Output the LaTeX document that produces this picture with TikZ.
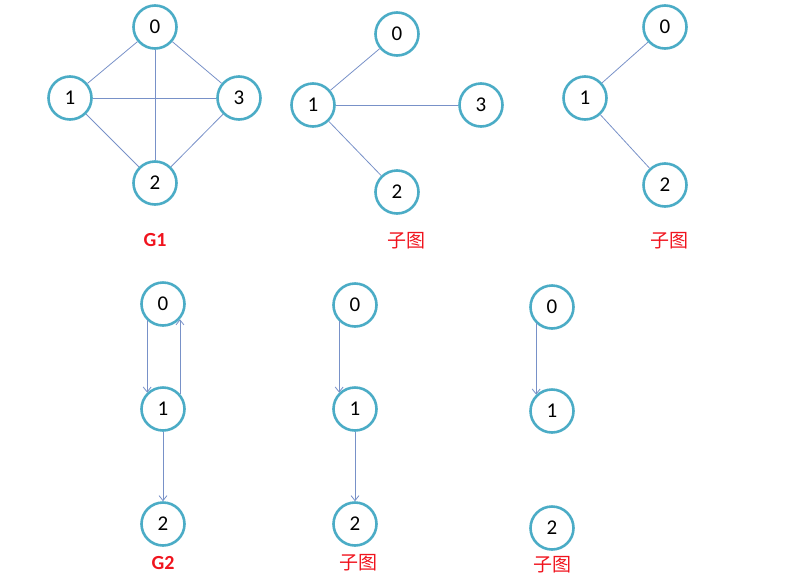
\documentclass[tikz,border=0pt]{standalone}
\usepackage{fontspec}
\setmainfont{Carlito}
\newfontfamily\cjk{Noto Sans CJK SC}
\usetikzlibrary{arrows.meta}
\definecolor{ringblue}{RGB}{75,172,198}
\definecolor{edgeblue}{RGB}{120,145,200}
\definecolor{labelred}{RGB}{240,20,30}

\begin{document}
\begin{tikzpicture}[x=1pt,y=-1pt,
    vert/.style={circle,draw=ringblue,line width=2.6pt,fill=white,
      minimum size=43pt,inner sep=0pt,font=\fontsize{21}{21}\selectfont},
    edge/.style={edgeblue,line width=0.8pt},
    arc/.style={edge,-{Straight Barb[length=5pt,width=8pt]}},
    title/.style={text=labelred,font=\fontsize{20}{20}\selectfont\bfseries},
    subtitle/.style={text=labelred,font=\fontsize{19}{19}\selectfont\cjk}]
  \useasboundingbox (0,0) rectangle (795,587);

  % G1
  \node[vert] (a0) at (155,27) {0};
  \node[vert] (a1) at (70,98) {1};
  \node[vert] (a3) at (239,98) {3};
  \node[vert] (a2) at (155,183) {2};
  \foreach \u/\v in {0/1,0/3,0/2,1/3,1/2,3/2} {
    \draw[edge] (a\u) -- (a\v);
  }
  \node[title] (ta) at (155,240) {G1};

  % first subgraph of G1
  \node[vert] (b0) at (397,34) {0};
  \node[vert] (b1) at (313,105) {1};
  \node[vert] (b3) at (481,105) {3};
  \node[vert] (b2) at (397,192) {2};
  \foreach \v in {0,3,2} {
    \draw[edge] (b1) -- (b\v);
  }
  \node[subtitle] (tb) at (406,241) {子图};

  % second subgraph of G1
  \node[vert] (c0) at (665,27) {0};
  \node[vert] (c1) at (585,98) {1};
  \node[vert] (c2) at (665,185) {2};
  \foreach \v in {0,2} {
    \draw[edge] (c1) -- (c\v);
  }
  \node[subtitle] (tc) at (669,241) {子图};

  % G2
  \node[vert] (d0) at (163,304) {0};
  \node[vert] (d1) at (163,409) {1};
  \node[vert] (d2) at (163,524) {2};
  \draw[arc] (d0.226) -- (d1.134);
  \draw[arc] (d1.42) -- (d0.-42);
  \draw[arc] (d1) -- (d2);
  \node[title] (td) at (163,563) {G2};

  % first subgraph of G2
  \node[vert] (e0) at (355,305) {0};
  \node[vert] (e1) at (355,409) {1};
  \node[vert] (e2) at (355,524) {2};
  \draw[arc] (e0.226) -- (e1.134);
  \draw[arc] (e1) -- (e2);
  \node[subtitle] (te) at (358,563) {子图};

  % second subgraph of G2
  \node[vert] (f0) at (552,307) {0};
  \node[vert] (f1) at (552,411) {1};
  \node[vert] (f2) at (552,528) {2};
  \draw[arc] (f0.226) -- (f1.134);
  \node[subtitle] (tf) at (552,565) {子图};
\end{tikzpicture}
\end{document}
